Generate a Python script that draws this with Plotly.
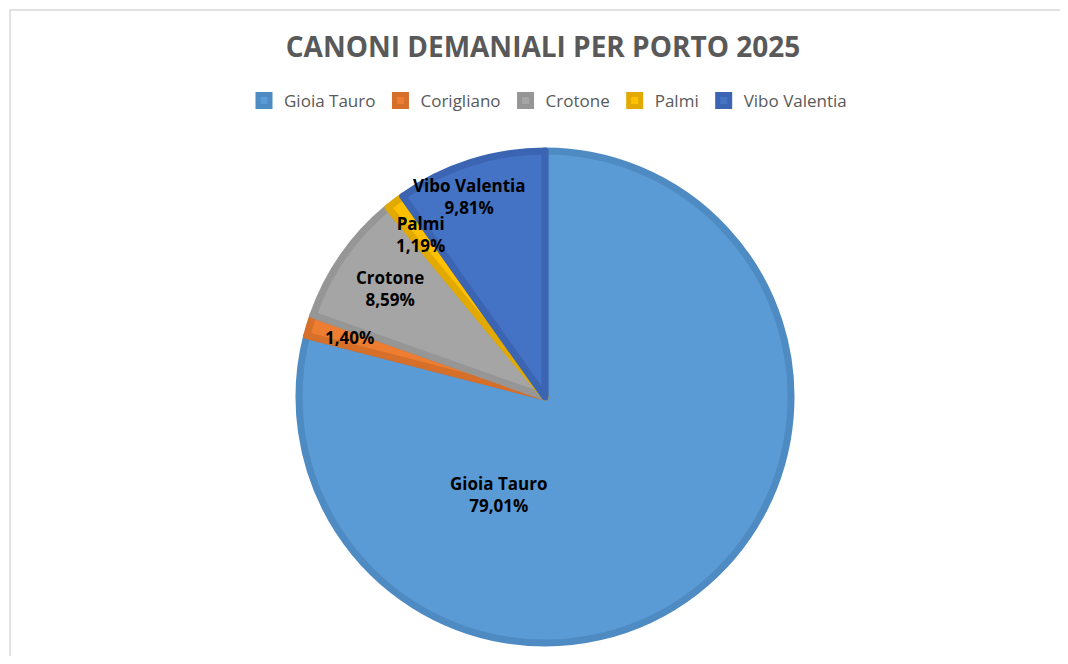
import math
import plotly.graph_objects as go

# Canoni demaniali 2025, quota percentuale per porto
porti = ["Gioia Tauro", "Corigliano", "Crotone", "Palmi", "Vibo Valentia"]
quote = [79.01, 1.40, 8.59, 1.19, 9.81]
colori = ["#5B9BD5", "#ED7D31", "#A5A5A5", "#FFC000", "#4472C4"]
bordi = ["#4F8BC3", "#D56F2A", "#969696", "#E2AA00", "#3B65B2"]
mostra_nome = [True, False, True, True, True]

# la pagina html ha 8px di margine: figura ridotta e coordinate spostate
OFF = 8
W, H = 1068 - 2 * OFF, 664 - 2 * OFF
CX, CY, R = 545 - OFF, 397 - OFF, 246

fig = go.Figure()
fig.add_trace(go.Pie(
    labels=porti,
    values=quote,
    sort=False,
    direction="clockwise",
    rotation=0,
    marker=dict(colors=colori, line=dict(color=bordi, width=7)),
    textinfo="none",
    hoverinfo="label+percent",
    domain=dict(x=[(CX - R) / W, (CX + R) / W], y=[1 - (CY + R) / H, 1 - (CY - R) / H]),
))

# etichette: posizione sul raggio medio di ogni fetta
label_r = [0.44, 0.83, 0.77, 0.83, 0.87]
angle_shift = [63, 0, 0, 0, -3]
tot = sum(quote)
acc = 0
for nome, q, show, lr, sh in zip(porti, quote, mostra_nome, label_r, angle_shift):
    mid = (acc + q / 2) / tot * 360 + sh
    acc += q
    px = CX + lr * R * math.sin(math.radians(mid))
    py = CY - lr * R * math.cos(math.radians(mid))
    perc = f"{q / tot * 100:.2f}%".replace(".", ",")
    txt = f"<b>{nome}<br>{perc}</b>" if show else f"<b>{perc}</b>"
    fig.add_annotation(x=px / W, y=1 - py / H, xref="paper", yref="paper",
                       xanchor="center", yanchor="middle",
                       text=txt, showarrow=False,
                       font=dict(family="Open Sans", size=17, color="#000000"))

fig.add_shape(type="rect", xref="paper", yref="paper",
              x0=(10 - OFF) / W, x1=1.05, y0=-0.05, y1=1 - (10 - OFF) / H,
              line=dict(color="#D9D9D9", width=1.5), layer="below")

fig.update_layout(
    width=W, height=H,
    margin=dict(l=0, r=0, t=0, b=0),
    paper_bgcolor="white",
    separators=",.",
    title=dict(text="<b>CANONI DEMANIALI PER PORTO 2025</b>", x=(543 - OFF) / W, xanchor="center",
               y=1 - (47 - OFF) / H, yanchor="middle",
               font=dict(family="Open Sans", size=28, color="#595959")),
    legend=dict(orientation="h", x=(548 - OFF) / W, xanchor="center", y=1 - (101 - OFF) / H, yanchor="middle",
                font=dict(family="Open Sans", size=17, color="#595959"),
                itemwidth=30, traceorder="normal"),
)

fig.write_html("out.html")
